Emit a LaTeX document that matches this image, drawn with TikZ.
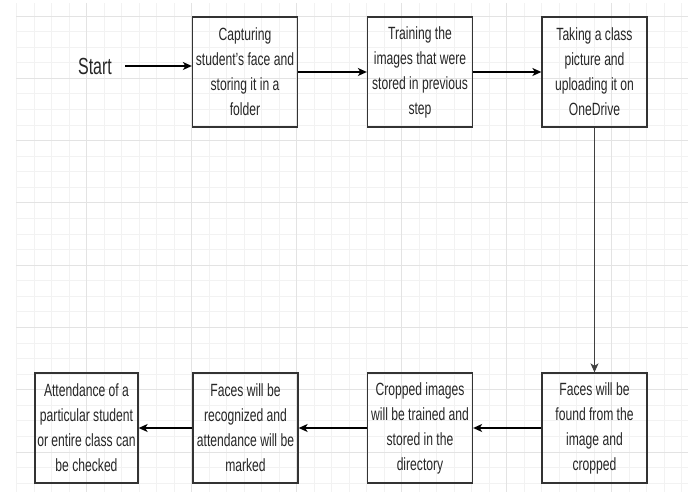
\documentclass[tikz,border=0pt]{standalone}
\usepackage{fontspec}
\usetikzlibrary{arrows.meta}
\newfontfamily\flowfont[FakeStretch=0.685]{Liberation Sans}

\begin{document}
\begin{tikzpicture}[x=1pt, y=-1pt,
        >={Stealth[length=9pt,width=8pt,inset=2.5pt]},
        stepbox/.style={draw=black!80, line width=1.3pt, rectangle, minimum width=105pt,
            minimum height=110pt, inner sep=0pt, align=center, text=black!85,
            font=\flowfont\fontsize{17.7}{25}\selectfont},
        flow/.style={->, line width=1.3pt, black},
        gridminor/.style={black!5, line width=0.8pt},
        gridmajor/.style={black!11, line width=0.9pt}]
            \useasboundingbox (0,0) rectangle (688,494);

            % background grid
            \foreach \gx in {16.7,34.2,...,688} \draw[gridminor] (\gx,3) -- (\gx,492);
            \foreach \gy in {16,31.57,...,492} \draw[gridminor] (16,\gy) -- (688,\gy);
            \foreach \gx in {86.7,191.7,...,688} \draw[gridmajor] (\gx,3) -- (\gx,492);
            \foreach \gy in {16,78.3,...,492} \draw[gridmajor] (16,\gy) -- (688,\gy);

            \node[text=black!85, inner xsep=13pt, font=\flowfont\fontsize{23.3}{28}\selectfont] (start) at (95,66) {Start};
            \node[stepbox] (capture) at (245,72) {Capturing \\ student’s face and \\ storing it in a \\ folder};
            \node[stepbox] (train) at (420,72) {Training the \\ images that were \\ stored in previous \\ step};
            \node[stepbox] (upload) at (594.5,72) {Taking a class \\ picture and \\ uploading it on \\ OneDrive};
            \node[stepbox] (detect) at (594.5,428) {Faces will be \\ found from the \\ image and \\ cropped};
            \node[stepbox] (store) at (420,428) {Cropped images \\ will be trained and \\ stored in the \\ directory};
            \node[stepbox] (recognize) at (245.5,428) {Faces will be \\ recognized and \\ attendance will be \\ marked};
            \node[stepbox, minimum width=103pt] (check) at (86.5,428) {Attendance of a \\ particular student \\ or entire class can \\ be checked};

            \draw[flow] (start.east) -- (start.east -| capture.west);
            \draw[flow] (capture) -- (train);
            \draw[flow] (train) -- (upload);
            \draw[flow, black!75, line width=1.1pt] (upload) -- (detect);
            \draw[flow] (detect) -- (store);
            \draw[flow] (store) -- (recognize);
            \draw[flow] (recognize) -- (check);

        \end{tikzpicture}
\end{document}
